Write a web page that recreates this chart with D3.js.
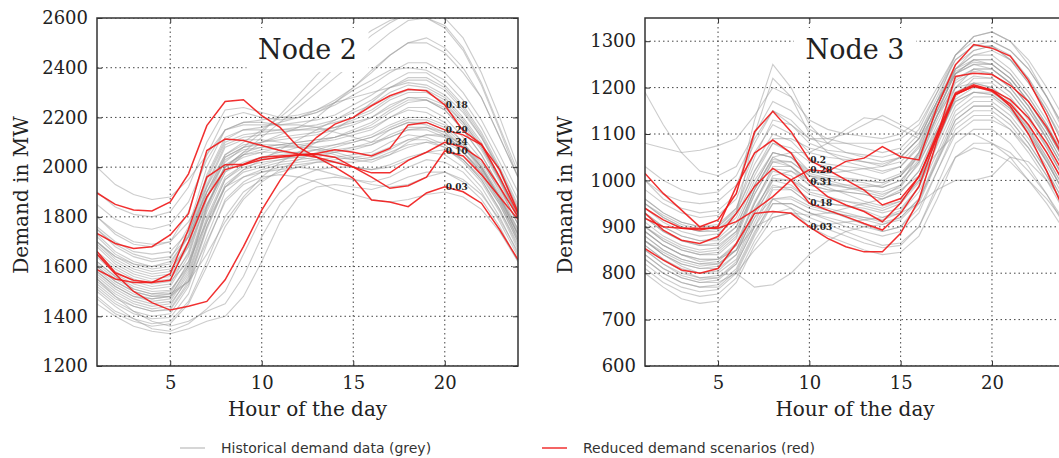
<!DOCTYPE html>
<html>
<head>
<meta charset="utf-8">
<script src="https://cdn.jsdelivr.net/npm/d3@7"></script>
<style>
  body { margin: 0; background: #fff; }
  svg { display: block; }
</style>
</head>
<body>
<svg id="chart" width="1059" height="458"></svg>
<script>
var hours = [1,2,3,4,5,6,7,8,9,10,11,12,13,14,15,16,17,18,19,20,21,22,23,24];
var hourTicks = [5, 10, 15, 20];

var node2Ticks = [1200, 1400, 1600, 1800, 2000, 2200, 2400, 2600];
var node3Ticks = [600, 700, 800, 900, 1000, 1100, 1200, 1300];

// historical demand, node 2 (grey)
var node2Grey = [
  [1600,1540,1500,1480,1490,1620,1850,2000,2040,2060,2080,2090,2100,2110,2130,2150,2200,2230,2220,2180,2100,2000,1880,1730],
  [1650,1580,1540,1520,1530,1660,1900,2050,2090,2100,2110,2120,2130,2150,2170,2200,2250,2280,2270,2230,2150,2050,1920,1770],
  [1550,1490,1450,1430,1440,1560,1780,1950,2000,2020,2030,2040,2050,2060,2080,2100,2150,2180,2170,2140,2060,1970,1850,1700],
  [1700,1630,1590,1570,1580,1700,1950,2100,2130,2140,2150,2160,2170,2190,2220,2250,2300,2330,2320,2280,2200,2100,1960,1800],
  [1520,1460,1420,1400,1410,1520,1720,1900,1960,1990,2010,2020,2030,2040,2050,2060,2100,2130,2120,2090,2030,1950,1830,1680],
  [1750,1680,1640,1620,1630,1760,2000,2150,2170,2170,2170,2180,2190,2210,2250,2290,2340,2380,2380,2330,2250,2140,2000,1850],
  [1620,1560,1520,1500,1505,1600,1820,1980,2020,2040,2050,2060,2070,2070,2080,2090,2120,2150,2150,2120,2060,1980,1860,1720],
  [1680,1610,1570,1550,1560,1680,1920,2080,2110,2110,2100,2090,2080,2060,2040,2030,2050,2080,2100,2100,2060,1990,1880,1750],
  [1580,1520,1480,1460,1470,1580,1800,1960,2010,2030,2040,2040,2030,2020,2000,1990,2000,2030,2060,2070,2030,1960,1850,1700],
  [1800,1740,1700,1690,1700,1820,2050,2200,2220,2200,2190,2200,2220,2260,2310,2350,2390,2400,2390,2350,2270,2160,2020,1870],
  [1900,1840,1810,1800,1820,1920,2100,2230,2240,2220,2200,2200,2220,2250,2290,2330,2380,2420,2420,2380,2300,2190,2050,1900],
  [2000,1930,1890,1870,1880,1950,2050,2150,2180,2190,2200,2210,2230,2270,2320,2380,2450,2500,2500,2460,2380,2280,2120,1960],
  [1480,1420,1390,1370,1380,1460,1620,1800,1900,1950,1980,2000,2020,2030,2040,2050,2080,2110,2110,2080,2020,1940,1820,1670],
  [1500,1440,1390,1350,1340,1370,1430,1500,1650,1800,1900,1960,1990,2000,2000,1990,2010,2040,2060,2050,2000,1920,1800,1650],
  [1550,1480,1420,1380,1360,1380,1420,1450,1560,1720,1850,1920,1950,1960,1950,1940,1960,2000,2030,2020,1980,1900,1780,1640],
  [1450,1400,1360,1340,1330,1350,1380,1400,1480,1620,1780,1880,1920,1930,1920,1910,1930,1960,1980,1980,1940,1870,1760,1620],
  [1620,1560,1510,1490,1490,1540,1650,1780,1880,1960,2020,2060,2100,2150,2200,2260,2320,2360,2360,2320,2240,2130,1990,1830],
  [1700,1640,1600,1580,1590,1680,1850,1980,2050,2100,2130,2160,2200,2260,2320,2390,2450,2500,2520,2480,2400,2280,2120,1960],
  [1750,1690,1650,1630,1640,1720,1880,2000,2060,2120,2180,2240,2300,2360,2420,2480,2540,2590,2600,2570,2480,2340,2160,1980],
  [1800,1730,1690,1680,1700,1780,1920,2050,2100,2150,2200,2260,2330,2400,2470,2530,2580,2620,2640,2600,2520,2380,2200,2000],
  [1850,1790,1760,1750,1770,1860,2030,2150,2180,2180,2170,2170,2160,2140,2120,2100,2120,2150,2160,2140,2080,1990,1870,1730],
  [1650,1590,1550,1530,1540,1620,1780,1920,1960,1980,1990,2000,1990,1970,1950,1930,1920,1930,1960,1980,1950,1890,1790,1660],
  [1600,1540,1500,1480,1480,1540,1700,1860,1930,1960,1970,1960,1940,1910,1890,1870,1860,1870,1890,1900,1880,1830,1740,1620],
  [1720,1650,1610,1590,1600,1720,1960,2110,2150,2160,2180,2200,2230,2260,2280,2300,2320,2340,2330,2290,2220,2120,1990,1840],
  [1530,1470,1440,1420,1430,1540,1760,1930,1990,2010,2030,2050,2070,2090,2110,2130,2170,2200,2200,2170,2100,2010,1890,1740],
  [1580,1520,1480,1470,1480,1590,1830,2000,2060,2080,2090,2100,2110,2120,2140,2170,2220,2260,2270,2240,2170,2070,1940,1790],
  [1660,1600,1560,1540,1550,1650,1880,2040,2080,2100,2120,2130,2140,2160,2190,2220,2270,2300,2300,2260,2180,2080,1950,1800],
  [1560,1500,1460,1440,1450,1550,1760,1920,1990,2030,2070,2110,2150,2190,2230,2270,2320,2350,2350,2310,2230,2120,1980,1820],
  [1700,1640,1610,1600,1620,1720,1900,2040,2080,2090,2090,2080,2070,2050,2030,2020,2050,2100,2130,2130,2090,2020,1910,1770],
  [1470,1410,1380,1360,1370,1450,1600,1760,1870,1940,1990,2030,2060,2080,2100,2120,2150,2180,2180,2150,2080,2000,1870,1710],
  [1760,1700,1660,1650,1660,1740,1900,2020,2080,2140,2210,2290,2370,2440,2500,2550,2590,2610,2600,2560,2470,2330,2150,1960],
  [1640,1570,1530,1510,1520,1640,1870,2030,2070,2080,2090,2100,2110,2120,2140,2160,2200,2240,2240,2200,2120,2030,1900,1750],
  [1590,1530,1490,1470,1480,1600,1840,2010,2050,2070,2080,2080,2080,2090,2100,2120,2160,2190,2190,2160,2090,2000,1880,1730],
  [1690,1620,1580,1560,1570,1690,1930,2090,2120,2130,2140,2150,2160,2180,2200,2230,2280,2310,2310,2270,2190,2090,1950,1800],
  [1540,1480,1440,1420,1425,1530,1750,1920,1980,2000,2020,2030,2040,2060,2070,2090,2130,2160,2160,2130,2060,1980,1860,1710],
  [1610,1550,1510,1490,1500,1610,1840,2000,2050,2060,2060,2060,2050,2040,2030,2040,2070,2110,2130,2120,2080,2000,1880,1730],
  [1730,1660,1620,1600,1610,1730,1970,2120,2150,2150,2150,2150,2150,2160,2180,2200,2240,2280,2280,2250,2180,2080,1950,1800],
  [1510,1450,1410,1390,1395,1490,1690,1870,1940,1980,2000,2010,2020,2020,2020,2030,2060,2090,2100,2080,2030,1950,1830,1690],
  [1570,1510,1470,1450,1460,1570,1790,1950,2010,2040,2060,2080,2100,2120,2150,2180,2230,2270,2270,2230,2150,2050,1920,1770]
];

// reduced scenarios, node 2 (red)
var node2Red = [
  [1650,1570,1500,1455,1425,1440,1460,1547,1680,1827,1947,2047,2120,2173,2200,2247,2287,2313,2307,2250,2147,2093,1960,1813],
  [1661,1575,1545,1536,1571,1750,1960,2010,2012,2040,2045,2050,2055,2070,2060,2045,2075,2170,2180,2150,2130,2090,1990,1820],
  [1733,1693,1673,1680,1727,1813,2067,2113,2107,2087,2067,2053,2040,2020,2000,1977,1977,2027,2060,2100,2080,2030,1920,1800],
  [1588,1550,1536,1536,1545,1700,1880,1990,2010,2030,2040,2048,2052,2040,2000,1960,1915,1925,1960,2065,2045,1970,1880,1790],
  [1896,1850,1828,1824,1860,1973,2167,2264,2271,2207,2160,2080,2040,2000,1955,1868,1860,1841,1896,1921,1901,1855,1748,1628]
];
var node2Labels = ["0.18", "0.29", "0.34", "0.10", "0.03"];

// historical demand, node 3 (grey)
var node3Grey = [
  [900,870,850,840,845,880,980,1050,1030,990,980,975,970,960,975,1020,1110,1190,1210,1200,1170,1120,1060,990],
  [880,850,830,820,825,860,950,1020,1010,975,965,955,945,935,950,995,1090,1170,1190,1185,1155,1100,1040,970],
  [950,920,900,890,895,930,1020,1080,1060,1020,1010,1005,1000,995,1010,1050,1140,1220,1240,1230,1200,1150,1090,1020],
  [850,820,800,790,790,820,900,980,980,950,940,930,920,910,920,960,1050,1140,1170,1170,1140,1090,1030,960],
  [820,790,770,760,765,800,880,950,950,930,915,900,890,880,890,930,1020,1110,1140,1140,1110,1060,1000,930],
  [980,950,930,920,925,960,1060,1120,1100,1060,1050,1045,1040,1035,1050,1090,1170,1240,1260,1250,1220,1170,1110,1040],
  [1000,970,955,950,955,990,1080,1150,1120,1080,1065,1060,1055,1050,1060,1100,1180,1260,1290,1290,1260,1210,1150,1070],
  [870,840,815,800,800,830,920,1000,1000,980,975,980,985,990,1010,1060,1140,1200,1210,1200,1160,1110,1040,970],
  [930,900,880,870,870,900,990,1060,1050,1020,1015,1020,1025,1030,1050,1090,1170,1230,1250,1240,1210,1160,1100,1030],
  [1080,1070,1060,1065,1075,1090,1140,1200,1180,1130,1110,1100,1095,1090,1100,1130,1200,1270,1300,1300,1280,1240,1180,1110],
  [1190,1120,1060,1020,1010,1030,1100,1170,1150,1110,1090,1080,1070,1060,1070,1110,1190,1270,1310,1320,1300,1260,1200,1130],
  [840,810,790,780,785,820,900,960,960,940,930,925,920,915,930,975,1060,1150,1180,1180,1150,1100,1040,970],
  [800,770,745,735,740,780,860,920,930,910,895,880,865,855,860,900,990,1080,1110,1110,1080,1030,970,900],
  [860,830,805,790,795,800,770,775,800,840,870,890,900,905,920,960,1040,1120,1150,1150,1120,1070,1010,940],
  [890,860,840,830,830,850,900,920,930,925,930,940,950,960,980,1010,1060,1100,1100,1080,1050,1000,960,910],
  [960,930,910,900,900,940,1050,1130,1120,1090,1090,1100,1120,1140,1120,1100,1170,1240,1270,1270,1240,1190,1130,1060],
  [920,890,870,860,860,890,980,1050,1060,1060,1080,1110,1135,1130,1110,1090,1150,1230,1260,1260,1230,1180,1120,1050],
  [950,920,900,890,890,930,1100,1220,1180,1100,1060,1040,1030,1020,1030,1070,1150,1230,1260,1260,1230,1180,1120,1050],
  [1000,960,940,930,935,970,1130,1250,1200,1120,1080,1060,1050,1040,1050,1090,1170,1250,1280,1290,1260,1210,1150,1080],
  [870,845,825,815,820,850,940,1000,990,960,950,945,935,920,935,985,1080,1180,1220,1220,1190,1140,1070,1000],
  [900,875,855,845,850,885,970,1040,1040,1010,1000,990,980,970,985,1040,1140,1240,1280,1290,1270,1220,1150,1070],
  [930,900,880,870,875,910,1000,1060,1050,1010,995,985,975,965,990,1060,1170,1270,1310,1320,1300,1250,1180,1100],
  [860,830,810,800,805,840,930,990,980,950,935,920,905,890,900,940,1020,1100,1130,1130,1110,1070,1010,940],
  [810,780,760,750,755,790,870,930,940,920,905,890,875,860,865,900,980,1050,1070,1060,1040,1000,950,890],
  [940,910,890,880,885,920,1010,1080,1070,1040,1030,1020,1010,1000,1015,1060,1150,1230,1250,1250,1220,1170,1110,1040],
  [890,860,840,825,830,860,950,1030,1030,1000,985,970,955,945,955,1000,1100,1200,1240,1240,1210,1160,1090,1020],
  [1030,1000,980,970,975,1010,1090,1150,1130,1090,1080,1080,1080,1080,1090,1120,1190,1260,1290,1300,1280,1240,1180,1110],
  [830,800,780,770,775,810,890,950,950,930,920,910,900,890,900,950,1040,1130,1160,1160,1130,1080,1020,950],
  [870,840,820,810,810,840,930,1010,1020,1000,990,990,990,985,1000,1040,1110,1170,1190,1190,1160,1110,1050,980],
  [950,925,905,895,900,935,1020,1090,1090,1070,1060,1050,1040,1030,1040,1080,1160,1240,1270,1280,1260,1220,1160,1090],
  [880,850,830,820,820,850,920,960,940,900,880,865,850,840,845,880,960,1050,1080,1080,1060,1020,970,910],
  [840,810,790,780,780,800,850,890,900,900,905,910,915,920,930,950,980,1000,1000,1010,1050,1040,1000,950],
  [900,870,850,840,840,875,970,1040,1030,1000,990,985,980,975,990,1035,1120,1200,1225,1220,1190,1140,1075,1000],
  [870,840,820,810,815,850,935,1005,1000,970,960,955,950,940,955,1000,1090,1175,1200,1195,1165,1115,1050,980],
  [920,890,870,860,865,900,990,1060,1050,1015,1005,1000,995,985,1000,1045,1130,1210,1235,1230,1200,1150,1090,1020],
  [850,820,795,785,790,825,910,985,985,960,950,945,940,930,940,985,1075,1160,1190,1185,1155,1105,1045,970],
  [960,930,910,900,905,940,1035,1100,1085,1045,1035,1030,1025,1015,1030,1075,1160,1235,1255,1250,1220,1170,1110,1040],
  [890,860,840,830,830,865,955,1025,1020,990,980,975,970,960,975,1020,1105,1185,1210,1210,1180,1130,1070,1000],
  [830,800,780,770,770,805,885,960,965,945,935,925,915,905,915,955,1045,1130,1160,1160,1130,1080,1020,950],
  [910,880,860,850,855,890,980,1045,1040,1010,1005,1000,1000,995,1010,1055,1140,1215,1240,1240,1210,1160,1100,1030]
];

// reduced scenarios, node 3 (red)
var node3Red = [
  [1015,972,936,900,915,972,1105,1149,1105,1044,1023,1001,979,947,961,1008,1095,1224,1231,1228,1205,1170,1115,1045],
  [918,900,897,897,897,911,936,965,1001,1023,1019,1041,1048,1073,1051,1044,1159,1249,1293,1285,1268,1215,1140,1050],
  [940,915,897,893,900,987,1059,1087,1059,997,965,947,933,911,951,1008,1102,1188,1206,1195,1174,1135,1080,1010],
  [929,893,871,864,879,929,987,1026,1001,951,936,922,907,893,929,987,1095,1185,1203,1192,1165,1120,1060,990],
  [853,828,807,800,810,864,929,933,929,900,875,857,846,846,886,958,1087,1185,1203,1195,1160,1100,1020,930]
];
var node3Labels = ["0.2", "0.28", "0.31", "0.18", "0.03"];

var svg = d3.select("#chart");
var plotTop = 18, plotBottom = 366;
var serif = "DejaVu Serif, serif";

function drawPanel(p) {
    var x = d3.scaleLinear().domain([1, 24]).range([p.x0, p.x1]);
    var y = d3.scaleLinear().domain([p.yMin, p.yMax]).range([plotBottom, plotTop]);
    var g = svg.append("g");

    g.append("clipPath").attr("id", "clip-" + p.id)
      .append("rect")
        .attr("x", p.x0).attr("y", plotTop)
        .attr("width", p.x1 - p.x0).attr("height", plotBottom - plotTop);

    var line = d3.line()
        .x(function(d, i) { return x(hours[i]); })
        .y(function(d) { return y(d); });

    var plot = g.append("g").attr("clip-path", "url(#clip-" + p.id + ")");

    plot.selectAll(".grey")
        .data(p.grey)
      .enter().append("path")
        .attr("class", "grey")
        .attr("d", line)
        .attr("fill", "none")
        .attr("stroke", "#9a9a9a")
        .attr("stroke-opacity", 0.5)
        .attr("stroke-width", 1.1);

    // dotted grid
    plot.selectAll(".gx")
        .data(hourTicks)
      .enter().append("line")
        .attr("x1", function(d) { return x(d); })
        .attr("x2", function(d) { return x(d); })
        .attr("y1", plotTop).attr("y2", plotBottom);
    plot.selectAll(".gy")
        .data(p.yTicks)
      .enter().append("line")
        .attr("x1", p.x0).attr("x2", p.x1)
        .attr("y1", function(d) { return y(d); })
        .attr("y2", function(d) { return y(d); });
    plot.selectAll("line")
        .attr("stroke", "#444")
        .attr("stroke-width", 1)
        .attr("stroke-dasharray", "1.5,3");

    // title with white box
    var cx = (p.x0 + p.x1) / 2;
    plot.append("rect")
        .attr("x", cx - 61).attr("y", 28)
        .attr("width", 122).attr("height", 44)
        .attr("fill", "#fff");
    plot.append("text")
        .attr("x", cx).attr("y", 59)
        .attr("text-anchor", "middle")
        .attr("font-family", serif)
        .attr("font-size", 27)
        .attr("fill", "#222")
        .text(p.title);

    plot.selectAll(".red")
        .data(p.red)
      .enter().append("path")
        .attr("class", "red")
        .attr("d", line)
        .attr("fill", "none")
        .attr("stroke", "#f01818")
        .attr("stroke-opacity", 0.9)
        .attr("stroke-width", 1.5);

    plot.selectAll(".lbl")
        .data(p.red)
      .enter().append("text")
        .attr("x", x(p.labelHour) + 1)
        .attr("y", function(d) { return y(d[p.labelHour - 1]) + 3; })
        .attr("font-family", serif)
        .attr("font-weight", "bold")
        .attr("font-size", 9)
        .attr("fill", "#222")
        .text(function(d, i) { return p.labels[i]; });

    // axes, ticks pointing inward
    var ax = g.append("g").attr("transform", "translate(0," + plotBottom + ")")
        .call(d3.axisBottom(x).tickValues(hourTicks).tickSizeInner(-5).tickSizeOuter(0).tickPadding(10));
    var ay = g.append("g").attr("transform", "translate(" + p.x0 + ",0)")
        .call(d3.axisLeft(y).tickValues(p.yTicks).tickFormat(d3.format("d")).tickSizeInner(-5).tickSizeOuter(0).tickPadding(9));
    var at = g.append("g").attr("transform", "translate(0," + plotTop + ")")
        .call(d3.axisTop(x).tickValues(hourTicks).tickFormat("").tickSizeInner(-5).tickSizeOuter(0));
    var ar = g.append("g").attr("transform", "translate(" + p.x1 + ",0)")
        .call(d3.axisRight(y).tickValues(p.yTicks).tickFormat("").tickSizeInner(-5).tickSizeOuter(0));
    [ax, ay, at, ar].forEach(function(a) {
        a.select(".domain").remove();
        a.selectAll("line").attr("stroke", "#333").attr("stroke-width", 1);
        a.selectAll("text")
            .attr("font-family", serif)
            .attr("font-size", 18)
            .attr("fill", "#222");
    });

    g.append("rect")
        .attr("x", p.x0).attr("y", plotTop)
        .attr("width", p.x1 - p.x0).attr("height", plotBottom - plotTop)
        .attr("fill", "none")
        .attr("stroke", "#333")
        .attr("stroke-width", 1.5);

    g.append("text")
        .attr("x", cx).attr("y", 416)
        .attr("text-anchor", "middle")
        .attr("font-family", serif)
        .attr("font-size", 20)
        .attr("fill", "#222")
        .text("Hour of the day");

    g.append("text")
        .attr("transform", "translate(" + p.yLabelX + ",195) rotate(-90)")
        .attr("text-anchor", "middle")
        .attr("font-family", serif)
        .attr("font-size", 20)
        .attr("fill", "#222")
        .text("Demand in MW");
}

drawPanel({
    id: "n2", title: "Node 2", x0: 97, x1: 518,
    yMin: 1200, yMax: 2600, yTicks: node2Ticks,
    grey: node2Grey, red: node2Red, labels: node2Labels, labelHour: 20,
    yLabelX: 28
});
drawPanel({
    id: "n3", title: "Node 3", x0: 645, x1: 1065,
    yMin: 600, yMax: 1350, yTicks: node3Ticks,
    grey: node3Grey, red: node3Red, labels: node3Labels, labelHour: 10,
    yLabelX: 572
});

// legend
var legend = [
    { x: 180, color: "#c8c8c8", text: "Historical demand data (grey)" },
    { x: 542, color: "#f03030", text: "Reduced demand scenarios (red)" }
];
var lg = svg.selectAll(".legend")
    .data(legend)
  .enter().append("g")
    .attr("class", "legend");
lg.append("line")
    .attr("x1", function(d) { return d.x; })
    .attr("x2", function(d) { return d.x + 25; })
    .attr("y1", 448).attr("y2", 448)
    .attr("stroke", function(d) { return d.color; })
    .attr("stroke-width", 1.5);
lg.append("text")
    .attr("x", function(d) { return d.x + 41; })
    .attr("y", 453)
    .attr("font-family", "DejaVu Sans, sans-serif")
    .attr("font-size", 14)
    .attr("fill", "#333")
    .text(function(d) { return d.text; });
</script>
</body>
</html>
